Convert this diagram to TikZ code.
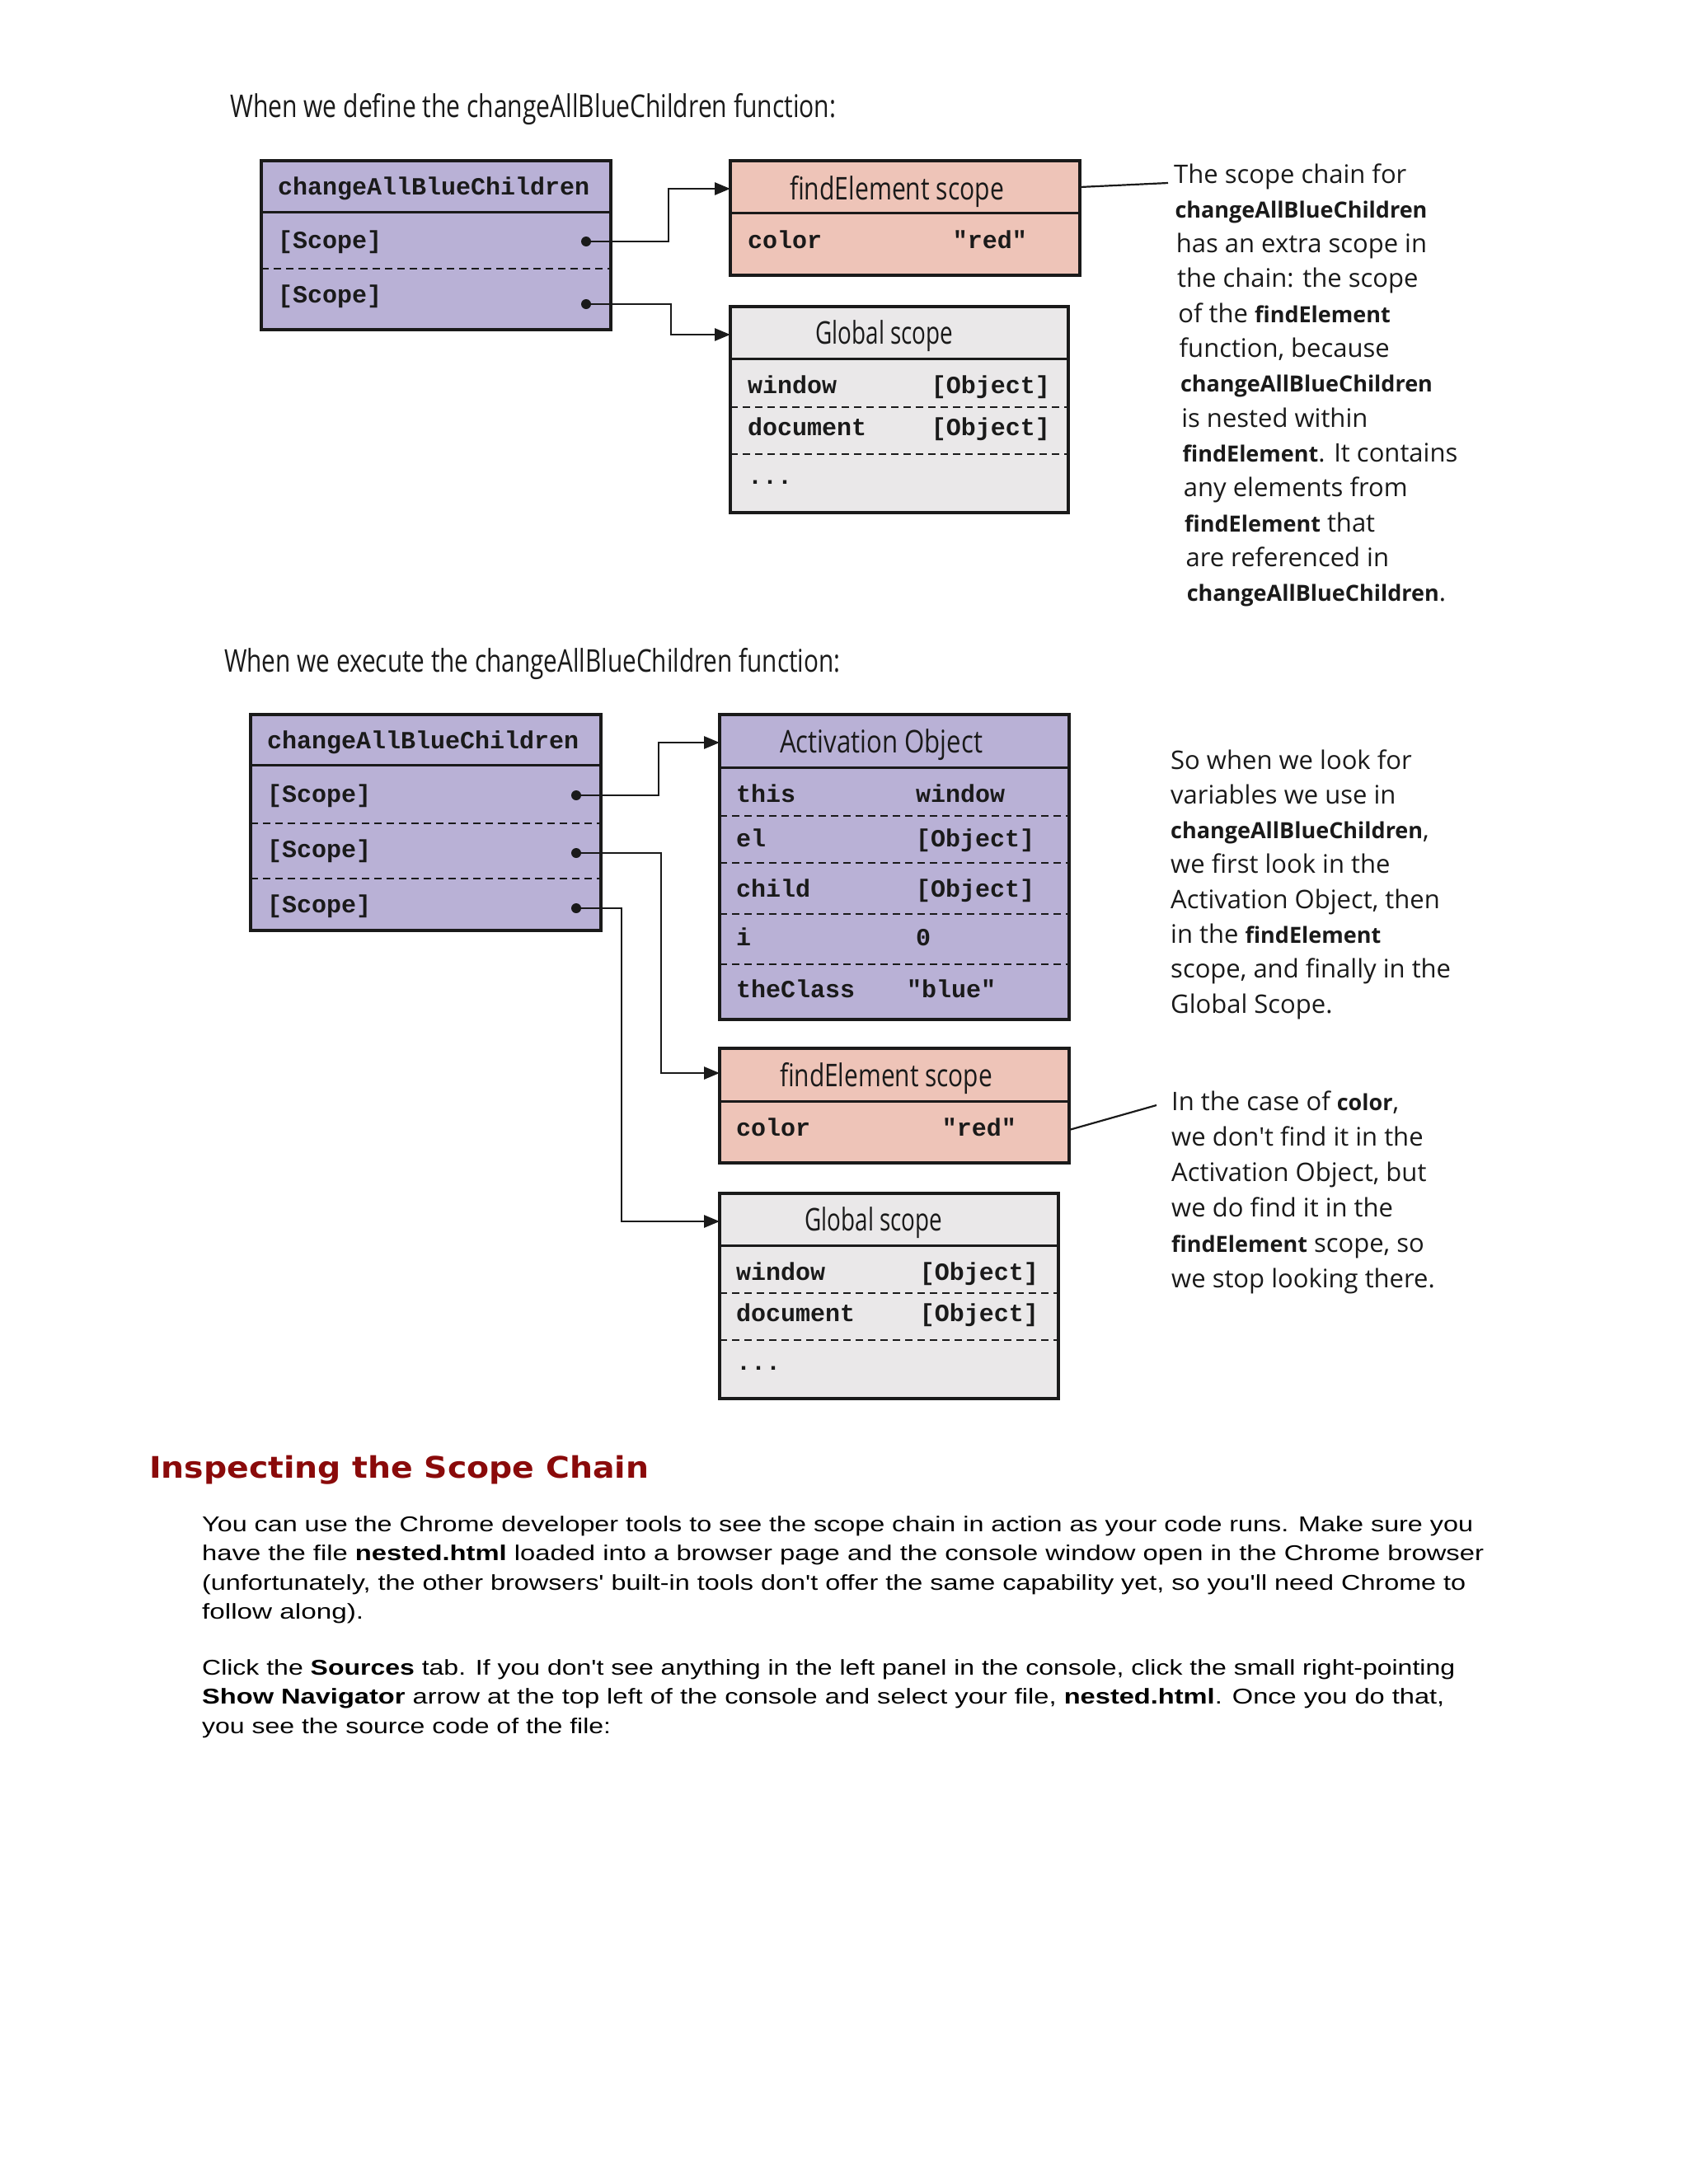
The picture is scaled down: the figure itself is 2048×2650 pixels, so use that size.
\documentclass[tikz,border=0pt]{standalone}
\usepackage{fontspec}
\usepackage{graphicx}
\setmainfont{Liberation Sans}
\setmonofont{Liberation Mono}
\newfontfamily\handfont{Open Sans}
\newfontfamily\bodyfont{Liberation Sans}
\newfontfamily\headfont{DejaVu Sans}
\usetikzlibrary{arrows.meta}
\definecolor{purp}{HTML}{B9B1D6}
\definecolor{pinkc}{HTML}{EEC4B8}
\definecolor{gryc}{HTML}{EAE8E9}
\definecolor{headred}{HTML}{8A0A0A}
\definecolor{ink}{HTML}{1A1A1A}
\newcommand\fitto[2]{\resizebox{#1}{\height}{#2}}
\newcommand\cw[1]{{\fontsize{27}{27}\selectfont\bfseries #1}}
\tikzset{
  box/.style={draw=ink, line width=3.5pt, inner sep=0pt, outer sep=0pt, anchor=north west},
  hline/.style={draw=ink, line width=3pt},
  dline/.style={draw=ink, line width=2.5pt, dash pattern=on 9pt off 6pt},
  conn/.style={draw=ink, line width=2.8pt, -{Triangle[length=19pt,width=15pt]}},
  pline/.style={draw=ink, line width=2.2pt},
  dotn/.style={circle, fill=ink, inner sep=0pt, minimum size=12pt},
  code/.style={font=\fontsize{30}{30}\ttfamily\bfseries, text=ink, inner sep=0pt, anchor=base west},
  coder/.style={code, anchor=base east},
  ttl/.style={font=\fontsize{38}{38}\handfont, text=ink, inner sep=0pt, anchor=base},
  note/.style={font=\fontsize{31}{31}\handfont, text=ink, inner sep=0pt, anchor=base west},
  body/.style={font=\fontsize{26}{26}\bodyfont, text=black, inner sep=0pt, anchor=base west},
}
\begin{document}
\begin{tikzpicture}[x=1pt,y=-1pt]
\useasboundingbox[fill=white] (0,0) rectangle (2048,2650);

% ---------- first diagram ----------
\node[ttl, anchor=base west] (title1) at (279,142) {\fitto{735pt}{When we define the changeAllBlueChildren function:}};

\node[box, fill=purp, minimum width=424pt, minimum height=205pt] (A1) at (317,195) {};
\draw[hline] (317,257) -- (741,257);
\draw[dline] (317,326) -- (741,326);
\node[code] (A1n) at (337,236) {changeAllBlueChildren};
\node[code] (A1s1) at (337,301) {[Scope]};
\node[code] (A1s2) at (337,367) {[Scope]};
\node[dotn] (A1d1) at (711,293) {};
\node[dotn] (A1d2) at (711,369) {};

\node[box, fill=pinkc, minimum width=424pt, minimum height=139pt] (F1) at (886,195) {};
\draw[hline] (886,258) -- (1310,258);
\node[ttl] (F1t) at (1088,242) {\fitto{260pt}{findElement scope}};
\node[code] (F1c) at (907,301) {color};
\node[coder] (F1v) at (1246,301) {"red"};

\node[box, fill=gryc, minimum width=410pt, minimum height=250pt] (G1) at (886,372) {};
\draw[hline] (886,435) -- (1296,435);
\draw[dline] (886,494) -- (1296,494);
\draw[dline] (886,551) -- (1296,551);
\node[ttl] (G1t) at (1073,417) {\fitto{167pt}{Global scope}};
\node[code] (G1w) at (907,477) {window};
\node[coder] (G1wv) at (1274,477) {[Object]};
\node[code] (G1d) at (907,528) {document};
\node[coder] (G1dv) at (1274,528) {[Object]};
\node[code] (G1e) at (907,587) {...};

\coordinate (k11) at (811,229);
\coordinate (k12) at (814,406);
\draw[conn] (A1d1.center) -| (k11) -- (k11 -| F1.west);
\draw[conn] (A1d2.center) -| (k12) -- (k12 -| G1.west);

\coordinate (n1) at (1417,222);
\draw[pline] ([yshift=-32pt]F1.north east) -- (n1);
\foreach \t [count=\i] in {%
  {The scope chain for},
  {\cw{changeAllBlueChildren}},
  {has an extra scope in},
  {the chain: the scope},
  {of the \cw{findElement}},
  {function, because},
  {\cw{changeAllBlueChildren}},
  {is nested within},
  {\cw{findElement}. It contains},
  {any elements from},
  {\cw{findElement} that},
  {are referenced in},
  {\cw{changeAllBlueChildren}.}}
  \node[note] (na\i) at ({1424+1.3*(\i-1)},{222+42.3*(\i-1)}) {\t};

% ---------- second diagram ----------
\node[ttl, anchor=base west] (title2) at (272,815) {\fitto{747pt}{When we execute the changeAllBlueChildren function:}};

\node[box, fill=purp, minimum width=425pt, minimum height=262pt] (A2) at (304,867) {};
\draw[hline] (304,928) -- (729,928);
\draw[dline] (304,999) -- (729,999);
\draw[dline] (304,1066) -- (729,1066);
\node[code] (A2n) at (324,908) {changeAllBlueChildren};
\node[code] (A2s1) at (324,973) {[Scope]};
\node[code] (A2s2) at (324,1040) {[Scope]};
\node[code] (A2s3) at (324,1107) {[Scope]};
\node[dotn] (A2d1) at (699,965) {};
\node[dotn] (A2d2) at (699,1035) {};
\node[dotn] (A2d3) at (699,1102) {};

\node[box, fill=purp, minimum width=424pt, minimum height=370pt] (AO) at (873,867) {};
\draw[hline] (873,931) -- (1297,931);
\draw[dline] (873,990) -- (1297,990);
\draw[dline] (873,1047) -- (1297,1047);
\draw[dline] (873,1109) -- (1297,1109);
\draw[dline] (873,1170) -- (1297,1170);
\node[ttl] (AOt) at (1069,913) {\fitto{246pt}{Activation Object}};
\node[code] (AO1) at (893,973) {this};
\node[code] (AO1v) at (1111,973) {window};
\node[code] (AO2) at (893,1027) {el};
\node[code] (AO2v) at (1111,1027) {[Object]};
\node[code] (AO3) at (893,1088) {child};
\node[code] (AO3v) at (1111,1088) {[Object]};
\node[code] (AO4) at (893,1147) {i};
\node[code] (AO4v) at (1111,1147) {0};
\node[code] (AO5) at (893,1210) {theClass};
\node[code] (AO5v) at (1100,1210) {"blue"};

\node[box, fill=pinkc, minimum width=424pt, minimum height=139pt] (F2) at (873,1272) {};
\draw[hline] (873,1336) -- (1297,1336);
\node[ttl] (F2t) at (1075,1318) {\fitto{258pt}{findElement scope}};
\node[code] (F2c) at (893,1378) {color};
\node[coder] (F2v) at (1233,1378) {"red"};

\node[box, fill=gryc, minimum width=411pt, minimum height=249pt] (G2) at (873,1448) {};
\draw[hline] (873,1511) -- (1284,1511);
\draw[dline] (873,1569) -- (1284,1569);
\draw[dline] (873,1626) -- (1284,1626);
\node[ttl] (G2t) at (1060,1493) {\fitto{167pt}{Global scope}};
\node[code] (G2w) at (893,1553) {window};
\node[coder] (G2wv) at (1260,1553) {[Object]};
\node[code] (G2d) at (893,1603) {document};
\node[coder] (G2dv) at (1260,1603) {[Object]};
\node[code] (G2e) at (893,1662) {...};

\coordinate (k21) at (799,901);
\coordinate (k22) at (802,1302);
\coordinate (k23) at (754,1482);
\draw[conn] (A2d1.center) -| (k21) -- (k21 -| AO.west);
\draw[conn] (A2d2.center) -| (k22) -- (k22 -| F2.west);
\draw[conn] (A2d3.center) -| (k23) -- (k23 -| G2.west);

\foreach \t [count=\i] in {%
  {So when we look for},
  {variables we use in},
  {\cw{changeAllBlueChildren},},
  {we first look in the},
  {Activation Object, then},
  {in the \cw{findElement}},
  {scope, and finally in the},
  {Global Scope.}}
  \node[note] (nb\i) at (1420,{933+42.3*(\i-1)}) {\t};

\coordinate (n2) at (1403,1341);
\draw[pline] ([yshift=-99pt]F2.north east) -- (n2);
\foreach \t [count=\i] in {%
  {In the case of \cw{color},},
  {we don't find it in the},
  {Activation Object, but},
  {we do find it in the},
  {\cw{findElement} scope, so},
  {we stop looking there.}}
  \node[note] (nc\i) at (1421,{1347+43.1*(\i-1)}) {\t};

% ---------- text below ----------
\node[font=\fontsize{36}{36}\headfont\bfseries, text=headred, inner sep=0pt, anchor=base west] (head) at (181,1793) {\fitto{606pt}{Inspecting the Scope Chain}};

\node[body] (p1) at (245,1858) {\fitto{1542pt}{You can use the Chrome developer tools to see the scope chain in action as your code runs. Make sure you}};
\node[body] (p2) at (245,1893.5) {\fitto{1555pt}{have the file \textbf{nested.html} loaded into a browser page and the console window open in the Chrome browser}};
\node[body] (p3) at (245,1929) {\fitto{1533pt}{(unfortunately, the other browsers' built-in tools don't offer the same capability yet, so you'll need Chrome to}};
\node[body] (p4) at (245,1964.5) {\fitto{196pt}{follow along).}};
\node[body] (p5) at (245,2032) {\fitto{1520pt}{Click the \textbf{Sources} tab. If you don't see anything in the left panel in the console, click the small right-pointing}};
\node[body] (p6) at (245,2067.5) {\fitto{1507pt}{\textbf{Show Navigator} arrow at the top left of the console and select your file, \textbf{nested.html}. Once you do that,}};
\node[body] (p7) at (245,2103) {\fitto{496pt}{you see the source code of the file:}};
\end{tikzpicture}
\end{document}
